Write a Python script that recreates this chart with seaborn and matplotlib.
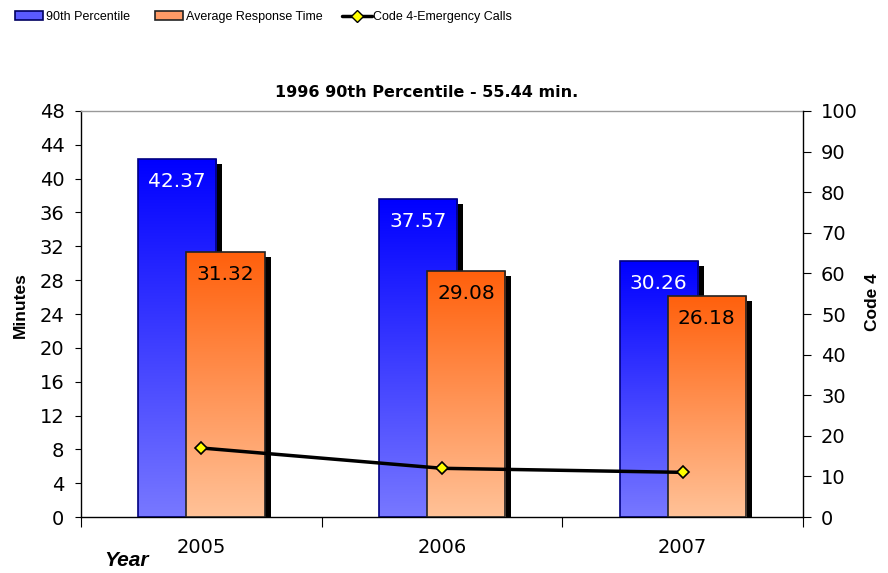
import numpy as np
import pandas as pd
import seaborn as sns
import matplotlib.pyplot as plt
from matplotlib.colors import LinearSegmentedColormap
from matplotlib.patches import Rectangle
from matplotlib.lines import Line2D
from matplotlib.transforms import offset_copy

years = ['2005', '2006', '2007']
pct90 = [42.37, 37.57, 30.26]
avg_resp = [31.32, 29.08, 26.18]
code4 = [17, 12, 11]

series_names = ['90th Percentile', 'Average Response Time']
line_name = 'Code 4-Emergency Calls'
grad_colors = {
    '90th Percentile': ('#0000ff', '#7878ff', '#000080'),
    'Average Response Time': ('#ff600c', '#ffc298', '#222222'),
}
label_colors = {'90th Percentile': 'white', 'Average Response Time': 'black'}

sns.set_style('white')
plt.rcParams['font.family'] = ['DejaVu Sans']
plt.rcParams.update({'text.color': 'black', 'axes.labelcolor': 'black',
                     'xtick.color': 'black', 'ytick.color': 'black'})

df = pd.DataFrame({
    'year': years * 2,
    'minutes': pct90 + avg_resp,
    'series': [series_names[0]] * 3 + [series_names[1]] * 3,
})

fig = plt.figure(figsize=(8.88, 5.73), dpi=100)
ax = fig.add_axes([0.0912, 0.0977, 0.8131, 0.7086])

sns.barplot(data=df, x='year', y='minutes', hue='series', hue_order=series_names,
            width=0.4, errorbar=None, ax=ax, legend=False)

bar_w = 0.325
shadow_tr = offset_copy(ax.transData, fig=fig, x=6, y=-5, units='dots')
grad = np.linspace(0, 1, 256).reshape(-1, 1)
for i, name in enumerate(series_names):
    top_c, bot_c, edge_c = grad_colors[name]
    cmap = LinearSegmentedColormap.from_list(name, [bot_c, top_c])
    vals = pct90 if i == 0 else avg_resp
    z = 2 + i
    for j, p in enumerate(ax.patches[i * 3:(i + 1) * 3]):
        cx = p.get_x() + p.get_width() / 2
        p.set_x(cx - bar_w / 2)
        p.set_width(bar_w)
        x0, h = p.get_x(), p.get_height()
        # drop shadow, offset down-right
        ax.add_patch(Rectangle((x0, 0), bar_w, h, transform=shadow_tr,
                               facecolor='black', edgecolor='none', zorder=z))
        im = ax.imshow(grad, cmap=cmap, origin='lower', aspect='auto',
                       extent=[x0, x0 + bar_w, 0, h], zorder=z + 0.1,
                       interpolation='bilinear')
        im.set_clip_path(p)
        p.set_facecolor('none')
        p.set_edgecolor(edge_c)
        p.set_linewidth(1.2)
        p.set_zorder(z + 0.2)
        ax.annotate(f'{vals[j]:.2f}', (cx, h), xytext=(0, -9.5), textcoords='offset points',
                    ha='center', va='top', fontsize=14.5, color=label_colors[name],
                    zorder=z + 0.3)

ax.set_xlim(-0.5, 2.5)
ax.set_ylim(0, 48)
ax.set_yticks(range(0, 49, 4))
ax.set_xticks(range(3))
ax.set_xticklabels(years)
ax.set_xticks([-0.5, 0.5, 1.5, 2.5], minor=True)
ax.tick_params(axis='x', which='major', length=0, labelsize=14, pad=15)
ax.tick_params(axis='x', which='minor', length=7, width=0.8, direction='out', bottom=True)
ax.tick_params(axis='y', length=4, width=0.8, direction='out', left=True, labelsize=14, pad=8)
ax.set_xlabel('')
ax.set_ylabel('Minutes', fontsize=12.5, fontweight='bold', family=['Liberation Sans'])
ax.yaxis.set_label_coords(-0.0734, 0.522)
for s in ['left', 'bottom']:
    ax.spines[s].set_color('black')
    ax.spines[s].set_linewidth(1)
ax.spines['right'].set_visible(False)
ax.spines['top'].set_color('#999999')
ax.spines['top'].set_linewidth(1)

ax2 = ax.twinx()
sns.pointplot(x=years, y=code4, ax=ax2, color='black', markers='D', errorbar=None,
              linewidth=2.5, markersize=6, markerfacecolor='yellow',
              markeredgecolor='black', markeredgewidth=1.2)
ax2.set_xlim(-0.5, 2.5)
ax2.set_ylim(0, 100)
ax2.set_yticks(range(0, 101, 10))
ax2.tick_params(axis='y', length=6, width=0.8, direction='out', right=True, labelsize=14, pad=7)
ax2.set_ylabel('Code 4', fontsize=12.5, fontweight='bold', family=['Liberation Sans'])
ax2.yaxis.set_label_coords(1.086, 0.53)
ax2.spines['right'].set_visible(True)
ax2.spines['right'].set_color('black')
ax2.spines['right'].set_linewidth(1)
for s in ['top', 'left', 'bottom']:
    ax2.spines[s].set_visible(False)

fig.text(0.48, 0.839, '1996 90th Percentile - 55.44 min.', fontsize=11.5, fontweight='bold',
         ha='center', va='center')

fig.text(0.143, 0.021, 'Year', fontsize=15, fontweight='bold', style='italic',
         ha='center', va='center', family=['Liberation Sans'])

# legend entries spread across the top, one legend each
leg_font = {'family': ['Liberation Sans'], 'size': 9}
entries = [
    (Rectangle((0, 0), 1, 1, facecolor='#5a5aff', edgecolor='#000060', linewidth=1.2),
     series_names[0], 15, 2.2, 0.25),
    (Rectangle((0, 0), 1, 1, facecolor='#ff9a66', edgecolor='#222222', linewidth=1.2),
     series_names[1], 155, 2.2, 0.25),
    (Line2D([0], [0], color='black', linewidth=2.5, marker='D', markersize=6,
            markerfacecolor='yellow', markeredgecolor='black'),
     line_name, 342, 2.4, 0.1),
]
for handle, label, px, hl, tp in entries:
    leg = fig.legend([handle], [label], loc='center left',
                     bbox_to_anchor=(px / 888, 1 - 17 / 573), frameon=False,
                     borderpad=0, borderaxespad=0, handlelength=hl, handleheight=0.7,
                     handletextpad=tp, prop=leg_font)

fig.savefig('out.png', dpi=100)
